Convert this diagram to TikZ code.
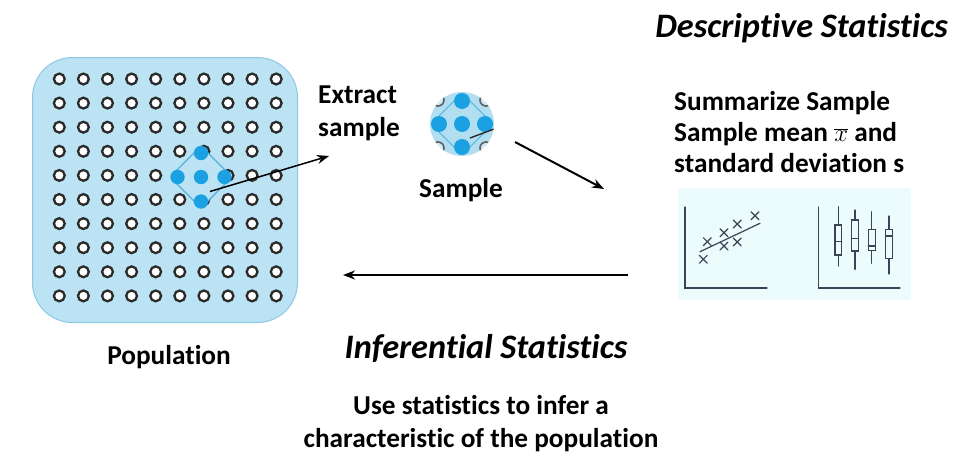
\documentclass[tikz,border=0pt]{standalone}
\usepackage{fontspec}
\setmainfont{Carlito}[Ligatures=NoCommon]
\usetikzlibrary{arrows.meta,calc}
\definecolor{popfill}{RGB}{188,227,244}
\definecolor{popedge}{RGB}{140,200,228}
\definecolor{dotblue}{RGB}{27,161,226}
\definecolor{diafill}{RGB}{178,222,242}
\definecolor{diaedge}{RGB}{80,176,222}
\definecolor{ringgray}{RGB}{42,42,42}
\definecolor{panelfill}{RGB}{236,251,251}
\definecolor{chartink}{RGB}{58,68,86}
\begin{document}
\begin{tikzpicture}[x=1pt,y=-1pt,
  lbl/.style={font=\fontsize{27.3}{33}\selectfont\bfseries, inner sep=0pt},
  heading/.style={font=\fontsize{34.3}{40}\selectfont\bfseries\itshape, inner sep=0pt},
  ring/.style={draw=ringgray, line width=2.3pt, fill=white},
  fdot/.style={fill=dotblue},
  arr/.style={-{Stealth[length=12pt,width=9pt]}, line width=2pt},
  ink/.style={draw=chartink, line width=1.2pt, line cap=round}
]
\useasboundingbox (0,0) rectangle (953,453);

% population: rounded square with a 10x10 grid of units
\node[draw=popedge, fill=popfill, rounded corners=40pt, line width=1pt,
      minimum width=265pt, minimum height=265pt] (pop) at (165,190) {};
\foreach \i in {0,...,9}
  \foreach \j in {0,...,9}
    \draw[ring] (59.3+24.1*\i, 79+24.1*\j) circle[radius=5.4pt];

% selected units
\coordinate (dc) at (201,177);
\draw[draw=diaedge, fill=popfill, line width=1.3pt, rounded corners=4pt]
  ($(dc)+(0,-31)$) -- ($(dc)+(31,0)$) -- ($(dc)+(0,31)$) -- ($(dc)+(-31,0)$) -- cycle;
\foreach \dx/\dy in {0/0,23.5/0,-23.5/0,0/24.5,0/-24}
  \fill[fdot] ($(dc)+(\dx,\dy)$) circle[radius=7.2pt];

% extracted sample
\node[circle, fill=diafill, minimum size=64pt, inner sep=0pt] (samp) at (462,124) {};
\begin{scope}
  \clip (samp.center) circle[radius=32pt];
  \foreach \dx/\dy in {24/24,-24/24,24/-24,-24/-24}
    \draw[draw=ringgray!75, line width=1.6pt, fill=white!40!diafill] ($(samp.center)+(\dx,\dy)$) circle[radius=6pt];
  \draw[draw=diaedge, fill=diafill, line width=1pt, rounded corners=4pt]
    ($(samp.center)+(0,-31)$) -- ($(samp.center)+(31,0)$) -- ($(samp.center)+(0,31)$) -- ($(samp.center)+(-31,0)$) -- cycle;
  \foreach \dx/\dy in {0/0,23/0,-23/0,0/23,0/-23}
    \fill[fdot] ($(samp.center)+(\dx,\dy)$) circle[radius=8pt];
  \draw[draw=ringgray, line width=1.4pt] ($(samp.center)+(8,14)$) -- ($(samp.center)+(32,5)$);
\end{scope}

% labels
\node[lbl, align=left, anchor=west] (extract) at (318,113.5) {Extract\\sample};
\node[lbl] (samplelbl) at (461,190) {Sample};
\node[lbl] (poplbl) at (169,357) {Population};
\node[heading, anchor=east] (desc) at (948,28) {Descriptive Statistics};
\node[lbl, align=left, anchor=west, font=\fontsize{27.3}{31}\selectfont\bfseries] (summ) at (674,132)
  {Summarize Sample\\Sample mean $\overline{x}$ and\\standard deviation s};
\node[heading] (infer) at (486,348) {Inferential Statistics};
\node[lbl, align=center] (uselbl) at (481,424) {Use statistics to infer a\\characteristic of the population};

% charts panel
\node[fill=panelfill, minimum width=233pt, minimum height=112pt, inner sep=0pt] (panel) at (794.5,244) {};
% scatter plot
\draw[ink] (685,207) -- (685,288) -- (767,288);
\draw[ink] (700,251.7) -- (760,223.3);
\foreach \px/\py in {703.3/259.3, 707.3/241.7, 724/232.7, 724/246, 737.3/224, 737.3/242, 755/215.7}
  \draw[ink] (\px-4,\py-4) -- (\px+4,\py+4) (\px-4,\py+4) -- (\px+4,\py-4);
% box plots
\draw[ink] (818.3,207) -- (818.3,288) -- (900,288);
\foreach \bx/\wa/\wb/\ba/\bb/\bm in {838.3/206.7/266/225/255/241.7, 855/210/269.3/220/251/238.3,
    871.7/211.7/263.3/229.3/250.7/246, 889/216/274/229.3/258.3/236}
{
  \draw[ink] (\bx,\wa) -- (\bx,\ba) (\bx,\bb) -- (\bx,\wb);
  \draw[ink, fill=panelfill] (\bx-3.4,\ba) rectangle (\bx+3.4,\bb);
  \draw[ink] (\bx-3.4,\bm) -- (\bx+3.4,\bm);
}

% connectors
\coordinate (ext0) at (210,191.5);
\coordinate (ext1) at (329,156);
\draw[arr, line width=1.5pt] (ext0) -- (ext1);
\coordinate (s0) at (515,142);
\coordinate (s1) at (604,189);
\draw[arr] (s0) -- (s1);
\coordinate (i0) at (628,275);
\coordinate (i1) at (343,275);
\draw[arr] (i0) -- (i1);
\end{tikzpicture}
\end{document}
